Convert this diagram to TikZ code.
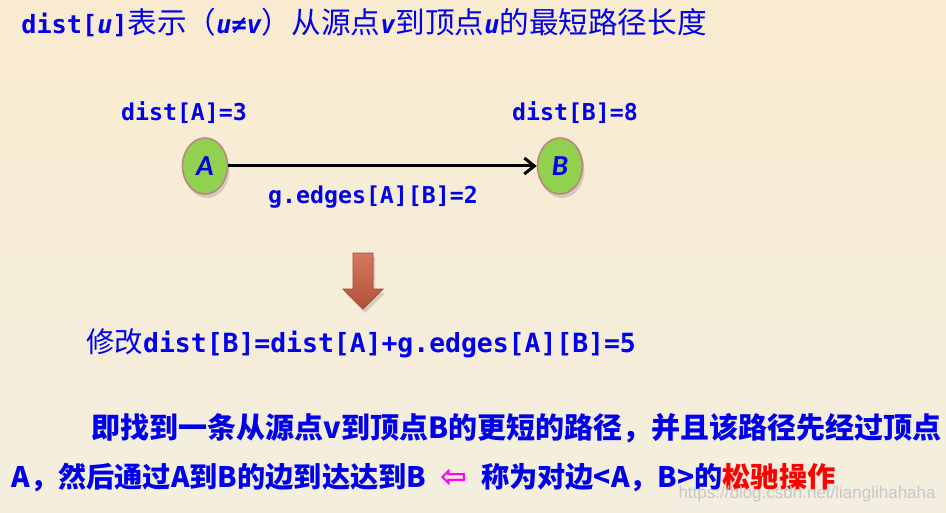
\documentclass[tikz,border=0pt]{standalone}
\usepackage{fontspec}
\usetikzlibrary{arrows.meta,shapes.geometric,shadows}
\newfontfamily\cjk{Noto Sans CJK SC}
\newfontfamily\mono{DejaVu Sans Mono}
\newfontfamily\vname{Carlito}
\newfontfamily\symb{DejaVu Sans}
\newfontfamily\wmark{Liberation Sans}
\newcommand\codesize{11.6}
\newcommand\code[1]{{\fontsize{\codesize}{15}\selectfont\mono\bfseries #1}}
\newcommand\codeit[1]{{\fontsize{\codesize}{15}\selectfont\mono\bfseries\itshape #1}}
\definecolor{txtblue}{RGB}{0,0,235}
\definecolor{nodegreen}{RGB}{146,208,80}
\definecolor{nodeedge}{RGB}{185,135,125}
\definecolor{arrowtop}{RGB}{212,120,95}
\definecolor{arrowbot}{RGB}{180,80,58}
\definecolor{arrowedge}{RGB}{160,75,55}
\definecolor{relaxred}{RGB}{255,0,0}
\definecolor{hintpink}{RGB}{255,0,255}
\definecolor{bgtop}{RGB}{249,235,208}
\definecolor{bgbot}{RGB}{243,238,222}
\begin{document}
\begin{tikzpicture}[x=0.5pt,y=-0.5pt,
    code/.style={text=txtblue,font=\fontsize{11.6}{15}\selectfont\mono\bfseries,inner sep=0pt},
    vertex/.style={ellipse,draw=nodeedge,line width=0.8pt,fill=nodegreen,
      minimum width=22.5pt,minimum height=28pt,inner sep=0pt,text=txtblue,
      font=\fontsize{14.5}{16}\selectfont\vname\bfseries\itshape,
      drop shadow={shadow xshift=1pt,shadow yshift=-2pt,opacity=0.3}},
    note/.style={text=txtblue,font=\fontsize{14.5}{17}\selectfont\cjk\bfseries,inner sep=0pt,anchor=west}]
  % background
  \shade[top color=bgtop,bottom color=bgbot] (0,0) rectangle (946,513);
  \useasboundingbox (0,0) rectangle (946,513);
  % title
  \node[text=txtblue,font=\fontsize{14.8}{17}\selectfont\cjk,inner sep=0pt,anchor=west] (title) at (21,22)
    {\def\codesize{12.6}\code{dist[\codeit{u}]}表示（\codeit{u≠v}）从源点\codeit{v}到顶点\codeit{u}的最短路径长度};
  % graph
  \node[vertex] (A) at (205,166) {A};
  \node[vertex] (B) at (560,166) {B};
  \node[code] (distA) at (184,113) {dist[A]=3};
  \node[code] (distB) at (575,113) {dist[B]=8};
  \node[code] (w) at (373,197) {g.edges[A][B]=2};
  \draw[-{Straight Barb[length=5pt,width=8pt]},line width=1.5pt] (A) -- (B);
  % down arrow
  \shade[top color=arrowtop,bottom color=arrowbot,draw=arrowedge,line width=0.4pt,
    drop shadow={shadow xshift=1pt,shadow yshift=-2pt,opacity=0.3}]
    (353,253) -- (373,253) -- (373,289) -- (383,289) -- (363,309) -- (343,289) -- (353,289) -- cycle;
  \node[text=txtblue,font=\fontsize{14.2}{17}\selectfont\cjk,inner sep=0pt,anchor=west] (upd) at (86,343)
    {\def\codesize{13.2}修改\code{dist[B]=dist[A]+g.edges[A][B]=5}};
  % explanation
  \node[note] (line1) at (91,428) {即找到一条从源点v到顶点B的更短的路径，并且该路径先经过顶点};
  \node[note,font=\fontsize{14.1}{17}\selectfont\cjk\bfseries] (line2) at (11,477)
    {A，然后通过A到B的边到达达到B\hspace{7pt}{\symb\fontsize{16}{17}\selectfont\color{hintpink}⇦}\hspace{7pt}称为对边<A，B>的{\color{relaxred}松驰操作}};
  \node[text=black!22,font=\fontsize{8.5}{10}\selectfont\wmark,inner sep=0pt,anchor=east] (mark) at (936,494)
    {https://blog.csdn.net/lianglihahaha};
\end{tikzpicture}
\end{document}
